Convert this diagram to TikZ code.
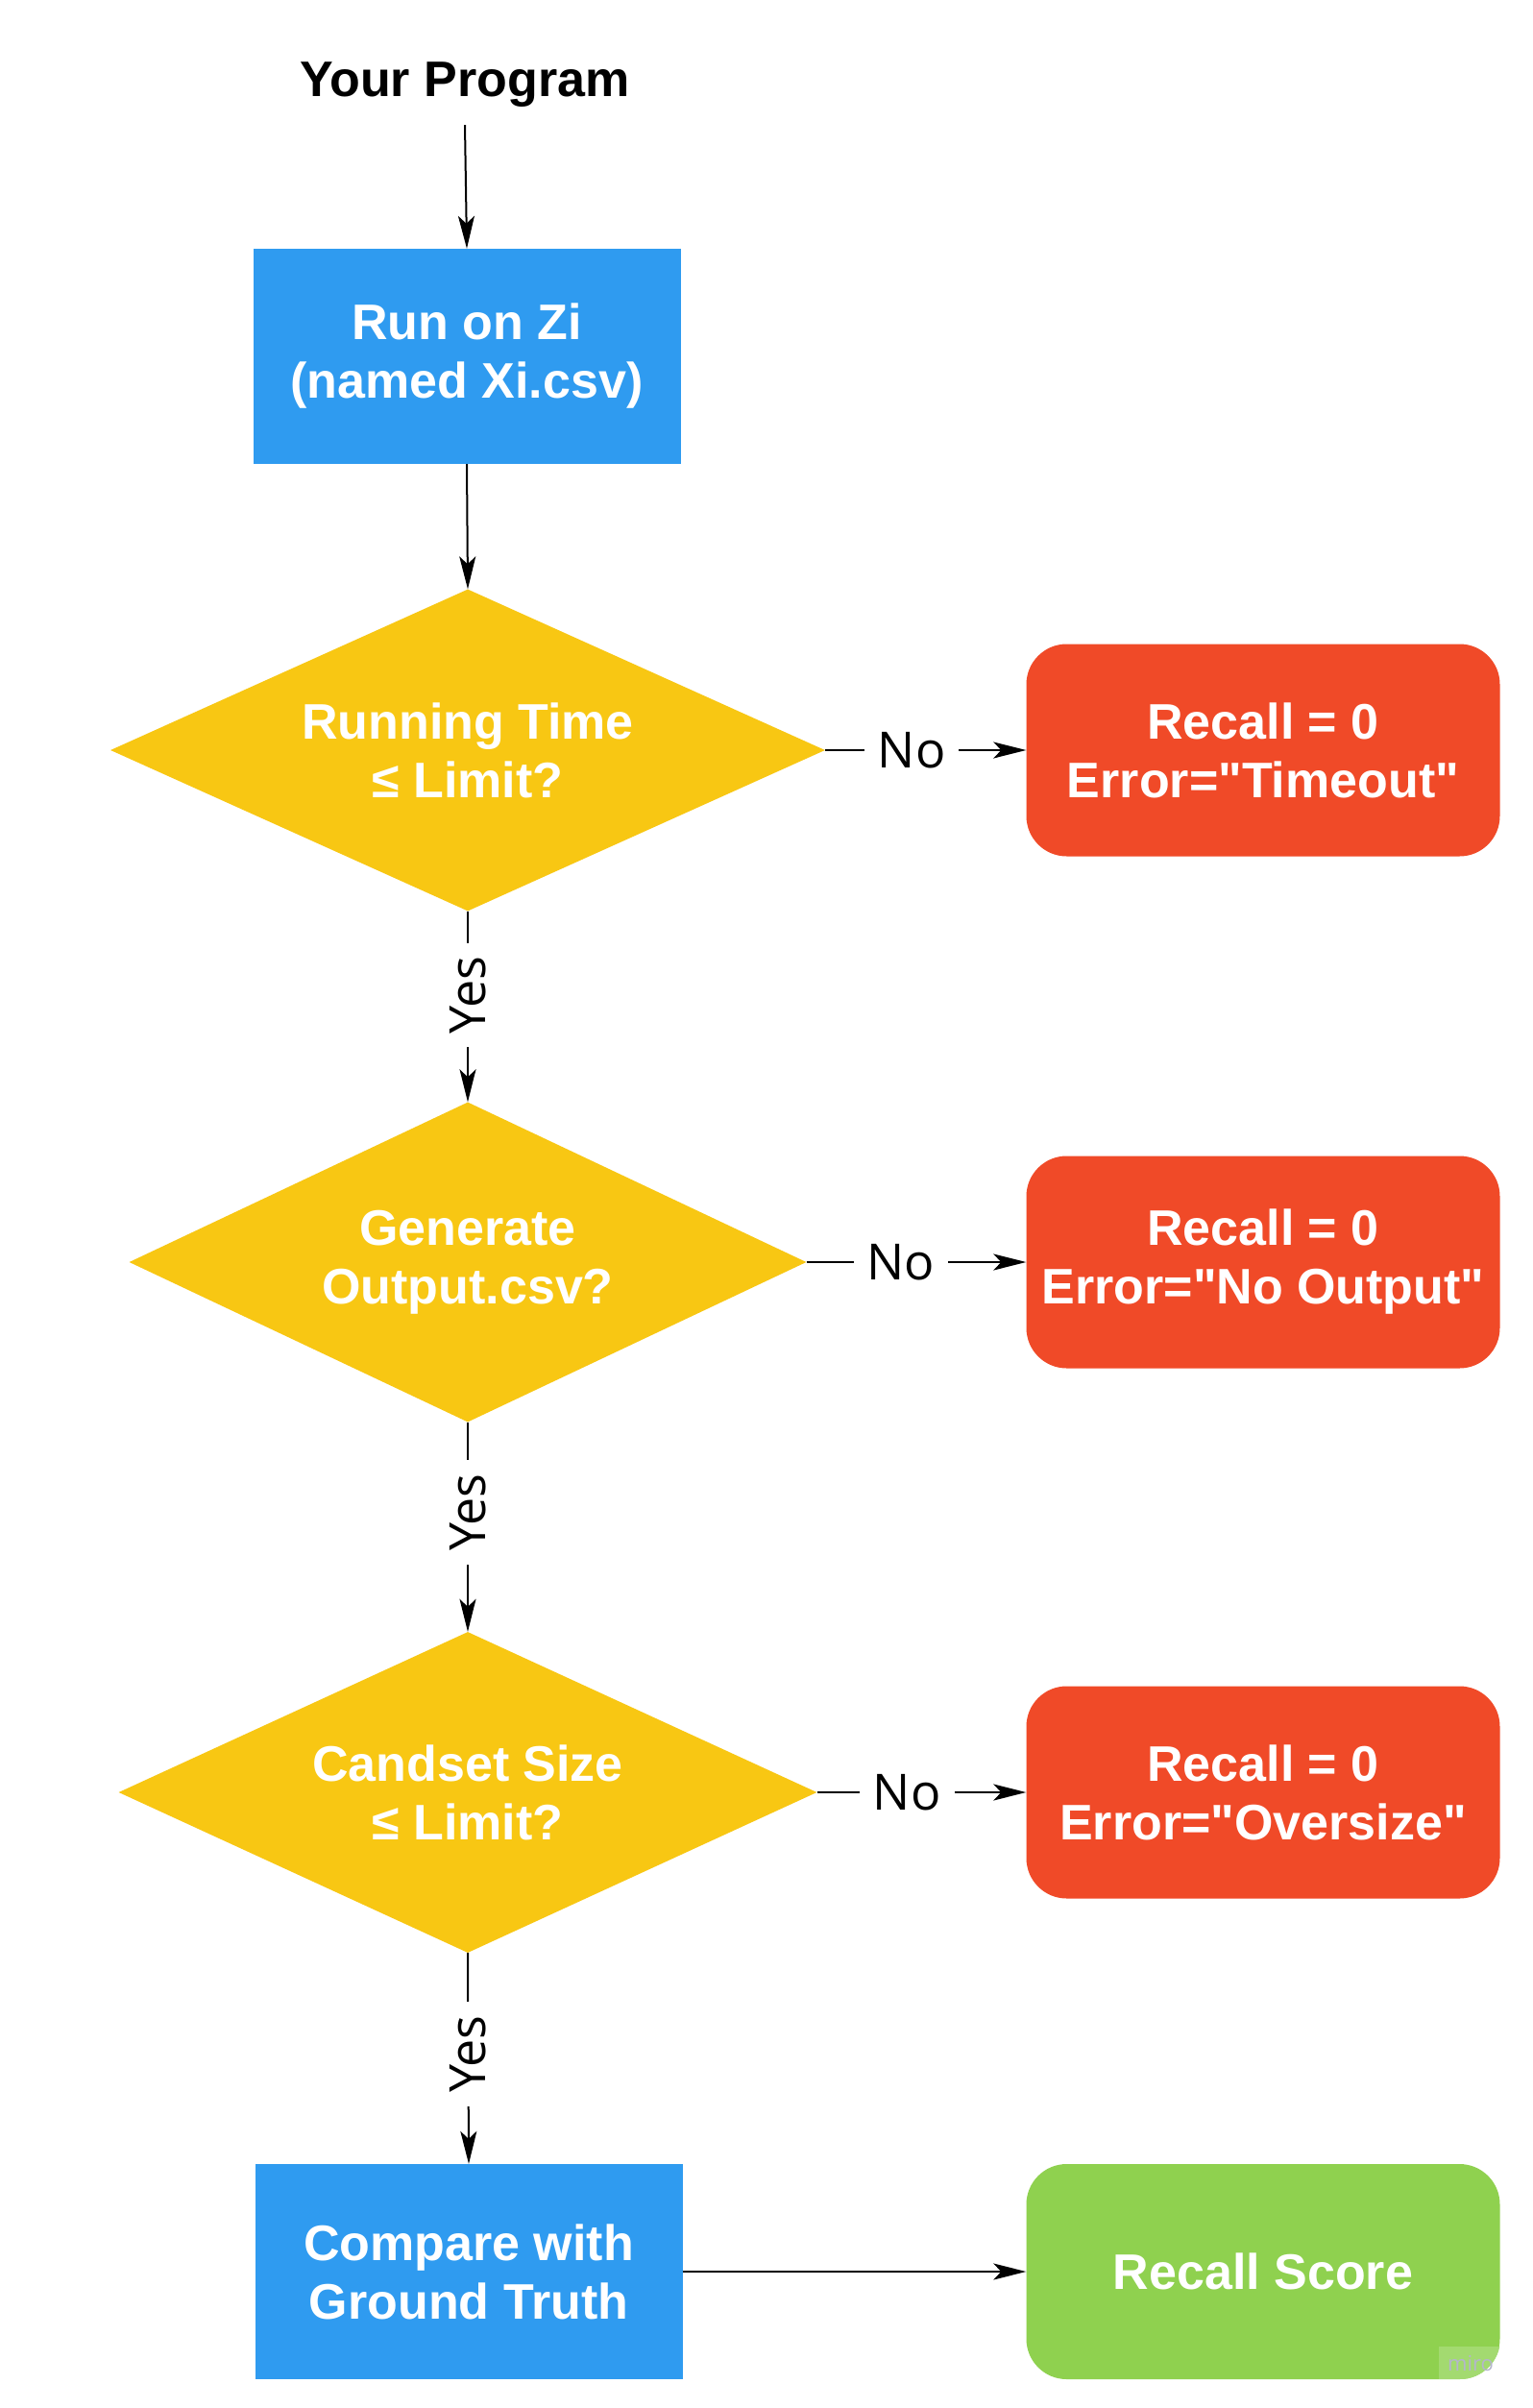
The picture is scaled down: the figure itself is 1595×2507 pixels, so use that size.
\documentclass[tikz,border=0pt]{standalone}
\usepackage{fontspec}
\setmainfont{Liberation Sans}[Ligatures=TeXOff]
\newfontfamily\labelfont{Open Sans}
\usetikzlibrary{shapes.geometric,arrows.meta}
\definecolor{mblue}{HTML}{2F9BF0}
\definecolor{myellow}{HTML}{F8C713}
\definecolor{mred}{HTML}{F04A28}
\definecolor{mgreen}{HTML}{8FD14F}
\definecolor{wmark}{HTML}{A3DA70}
\definecolor{wtext}{HTML}{B4B6CC}
\begin{document}
\begin{tikzpicture}[x=1pt,y=-1pt,
  boxfont/.style={font=\bfseries\fontsize{52}{61}\selectfont},
  procbox/.style={rectangle, fill=mblue, text=white, boxfont, align=center,
    minimum width=445pt, minimum height=224pt, inner sep=0pt},
  decision/.style={diamond, fill=myellow, text=white, boxfont, align=center,
    shape aspect=2.2, inner sep=0pt},
  failbox/.style={rectangle, rounded corners=42pt, fill=mred, text=white, boxfont,
    align=center, minimum width=493pt, minimum height=221pt, inner sep=0pt},
  okbox/.style={rectangle, rounded corners=42pt, fill=mgreen, text=white, boxfont,
    align=center, minimum width=493pt, minimum height=224pt, inner sep=0pt},
  conn/.style={line width=2pt, -{Stealth[length=34pt,width=17pt,inset=8pt]}},
  lbl/.style={font=\labelfont\fontsize{52}{60}\selectfont, fill=white, text=black,
    inner xsep=14pt, inner ysep=4pt}
]
\useasboundingbox[fill=white] (0,0) rectangle (1595,2507);

\node[boxfont, anchor=base, inner sep=18pt] (title) at (484,101) {Your Program};

\node[procbox] (run) at (486,371) {Run on Zi\\(named Xi.csv)};

\node[decision, minimum width=744pt, minimum height=335pt] (d1) at (487,781)
  {Running Time\\≤ Limit?};
\node[failbox] (f1) at (1315,781) {Recall = 0\\Error="Timeout"};

\node[decision, minimum width=705pt, minimum height=333pt] (d2) at (487,1314)
  {Generate\\Output.csv?};
\node[failbox] (f2) at (1315,1314) {Recall = 0\\Error="No Output"};

\node[decision, minimum width=727pt, minimum height=334pt] (d3) at (487,1866)
  {Candset Size\\≤ Limit?};
\node[failbox] (f3) at (1315,1866) {Recall = 0\\Error="Oversize"};

\node[procbox] (cmp) at (488,2365) {Compare with\\Ground Truth};
\node[okbox] (score) at (1315,2365) {Recall Score};

% miro watermark
\begin{scope}
  \clip[rounded corners=42pt] (1069,2253) rectangle (1562,2477);
  \fill[wmark] (1498,2443) rectangle (1562,2477);
\end{scope}
\node[text=wtext, font=\labelfont\fontsize{22}{24}\selectfont, inner sep=0pt] (wm) at (1531,2461) {miro};

% connectors
\draw[conn] (title.south) -- (run.north);
\draw[conn] (run.south) -- (d1.north);

\draw[conn] (d1.south) -- node[lbl, pos=0.44, rotate=90] (y1) {Yes} (d2.north);
\draw[conn] (d2.south) -- node[lbl, pos=0.43, rotate=90] (y2) {Yes} (d3.north);
\draw[conn] (d3.south) -- node[lbl, pos=0.48, rotate=90] (y3) {Yes} (cmp.north);

\draw[conn] (d1.east) -- node[lbl, pos=0.43] (n1) {No} (f1.west);
\draw[conn] (d2.east) -- node[lbl, pos=0.43] (n2) {No} (f2.west);
\draw[conn] (d3.east) -- node[lbl, pos=0.43] (n3) {No} (f3.west);

\draw[conn] (cmp.east) -- (score.west);
\end{tikzpicture}
\end{document}
